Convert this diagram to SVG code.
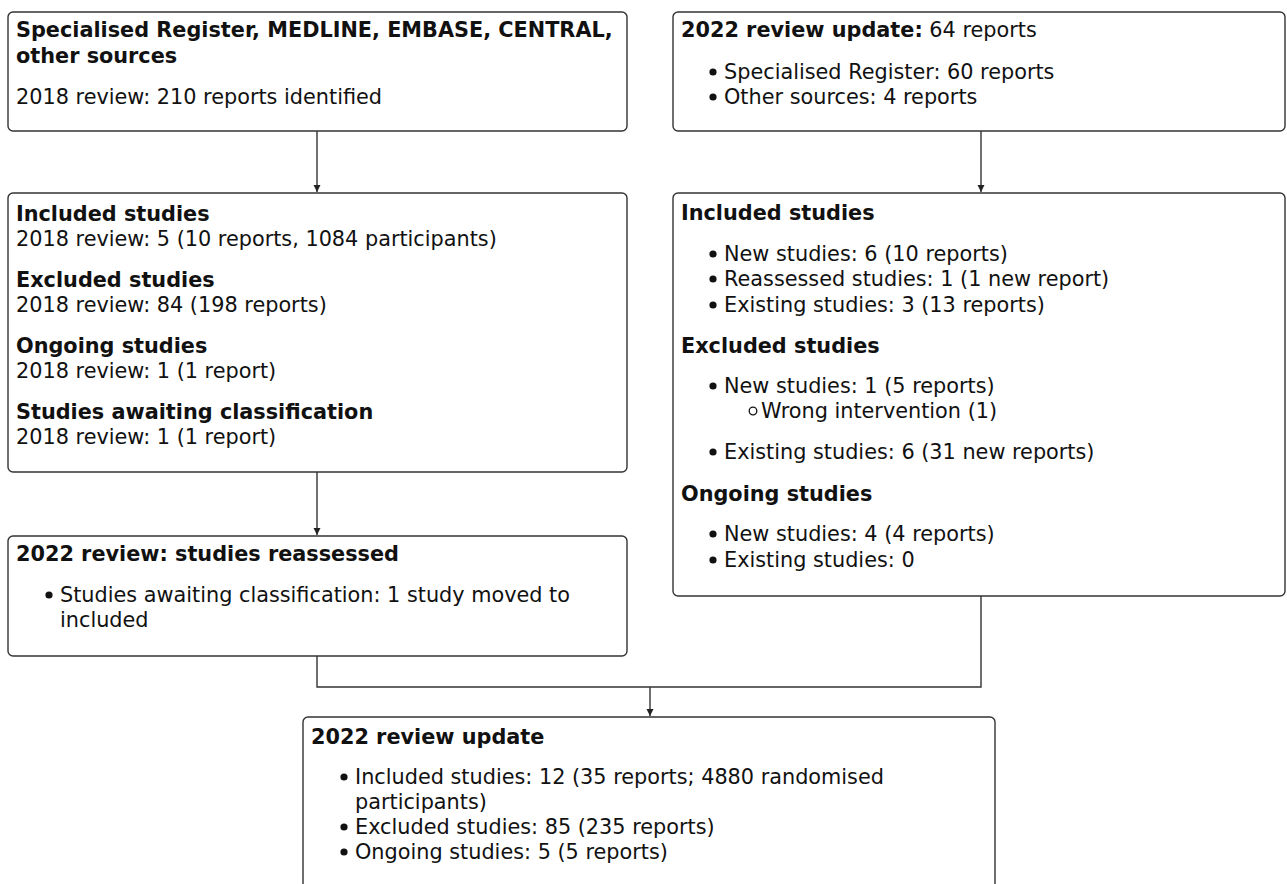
<svg xmlns="http://www.w3.org/2000/svg" width="1287" height="884" viewBox="0 0 1287 884">
<style>
  .box { fill: #ffffff; stroke: #333333; stroke-width: 1.4; }
  .h { font-family: "DejaVu Sans", sans-serif; font-size: 20.8px; font-weight: bold; fill: #111111; }
  .t { font-family: "DejaVu Sans", sans-serif; font-size: 20.8px; fill: #111111; }
  .b { font-weight: bold; }
  .dot { fill: #111111; }
  .ring { fill: none; stroke: #111111; stroke-width: 1.3; }
  .conn { fill: none; stroke: #333333; stroke-width: 1.4; }
</style>
<defs>
  <marker id="arr" markerUnits="userSpaceOnUse" markerWidth="8" markerHeight="8" refX="7" refY="3.5" orient="auto">
    <path d="M0,0 L7,3.5 L0,7 Z" fill="#222222"/>
  </marker>
</defs>
<rect width="1287" height="884" fill="#ffffff"/>

<g id="connectors">
  <line class="conn" x1="317" y1="131" x2="317" y2="192" marker-end="url(#arr)"/>
  <line class="conn" x1="981" y1="131" x2="981" y2="192" marker-end="url(#arr)"/>
  <line class="conn" x1="317" y1="472" x2="317" y2="535" marker-end="url(#arr)"/>
  <polyline class="conn" points="317,656 317,687 981,687 981,596"/>
  <line class="conn" x1="650" y1="687" x2="650" y2="716" marker-end="url(#arr)"/>
</g>

<g id="sources2018">
  <rect class="box" x="8" y="12" width="619" height="119" rx="5"/>
  <text class="h" x="16" y="37">Specialised Register, MEDLINE, EMBASE, CENTRAL,</text>
  <text class="h" x="16" y="63">other sources</text>
  <text class="t" x="16" y="104">2018 review: 210 reports identified</text>
</g>

<g id="sources2022">
  <rect class="box" x="673" y="12" width="612" height="119" rx="5"/>
  <text class="t" x="681" y="37"><tspan class="b">2022 review update:</tspan> 64 reports</text>
  <circle class="dot" cx="713" cy="72" r="3.6"/>
  <text class="t" x="724" y="79">Specialised Register: 60 reports</text>
  <circle class="dot" cx="713" cy="97" r="3.6"/>
  <text class="t" x="724" y="104">Other sources: 4 reports</text>
</g>

<g id="studies2018">
  <rect class="box" x="8" y="193" width="619" height="279" rx="5"/>
  <text class="h" x="16" y="221">Included studies</text>
  <text class="t" x="16" y="246">2018 review: 5 (10 reports, 1084 participants)</text>
  <text class="h" x="16" y="287">Excluded studies</text>
  <text class="t" x="16" y="312">2018 review: 84 (198 reports)</text>
  <text class="h" x="16" y="353">Ongoing studies</text>
  <text class="t" x="16" y="378">2018 review: 1 (1 report)</text>
  <text class="h" x="16" y="419">Studies awaiting classification</text>
  <text class="t" x="16" y="444">2018 review: 1 (1 report)</text>
</g>

<g id="studies2022">
  <rect class="box" x="673" y="193" width="612" height="403" rx="5"/>
  <text class="h" x="681" y="220">Included studies</text>
  <circle class="dot" cx="713" cy="254" r="3.6"/>
  <text class="t" x="724" y="261">New studies: 6 (10 reports)</text>
  <circle class="dot" cx="713" cy="279" r="3.6"/>
  <text class="t" x="724" y="286">Reassessed studies: 1 (1 new report)</text>
  <circle class="dot" cx="713" cy="305" r="3.6"/>
  <text class="t" x="724" y="312">Existing studies: 3 (13 reports)</text>
  <text class="h" x="681" y="353">Excluded studies</text>
  <circle class="dot" cx="713" cy="386" r="3.6"/>
  <text class="t" x="724" y="393">New studies: 1 (5 reports)</text>
  <circle class="ring" cx="753" cy="411" r="3.8"/>
  <text class="t" x="761" y="418">Wrong intervention (1)</text>
  <circle class="dot" cx="713" cy="452" r="3.6"/>
  <text class="t" x="724" y="459">Existing studies: 6 (31 new reports)</text>
  <text class="h" x="681" y="501">Ongoing studies</text>
  <circle class="dot" cx="713" cy="534" r="3.6"/>
  <text class="t" x="724" y="541">New studies: 4 (4 reports)</text>
  <circle class="dot" cx="713" cy="560" r="3.6"/>
  <text class="t" x="724" y="567">Existing studies: 0</text>
</g>

<g id="reassessed2022">
  <rect class="box" x="8" y="536" width="619" height="120" rx="5"/>
  <text class="h" x="16" y="561">2022 review: studies reassessed</text>
  <circle class="dot" cx="49" cy="595" r="3.6"/>
  <text class="t" x="60" y="602">Studies awaiting classification: 1 study moved to</text>
  <text class="t" x="60" y="627">included</text>
</g>

<g id="update2022">
  <rect class="box" x="303" y="717" width="692" height="200" rx="5"/>
  <text class="h" x="311" y="744">2022 review update</text>
  <circle class="dot" cx="344" cy="777" r="3.6"/>
  <text class="t" x="355" y="784">Included studies: 12 (35 reports; 4880 randomised</text>
  <text class="t" x="355" y="809">participants)</text>
  <circle class="dot" cx="344" cy="827" r="3.6"/>
  <text class="t" x="355" y="834">Excluded studies: 85 (235 reports)</text>
  <circle class="dot" cx="344" cy="852" r="3.6"/>
  <text class="t" x="355" y="859">Ongoing studies: 5 (5 reports)</text>
</g>
</svg>
